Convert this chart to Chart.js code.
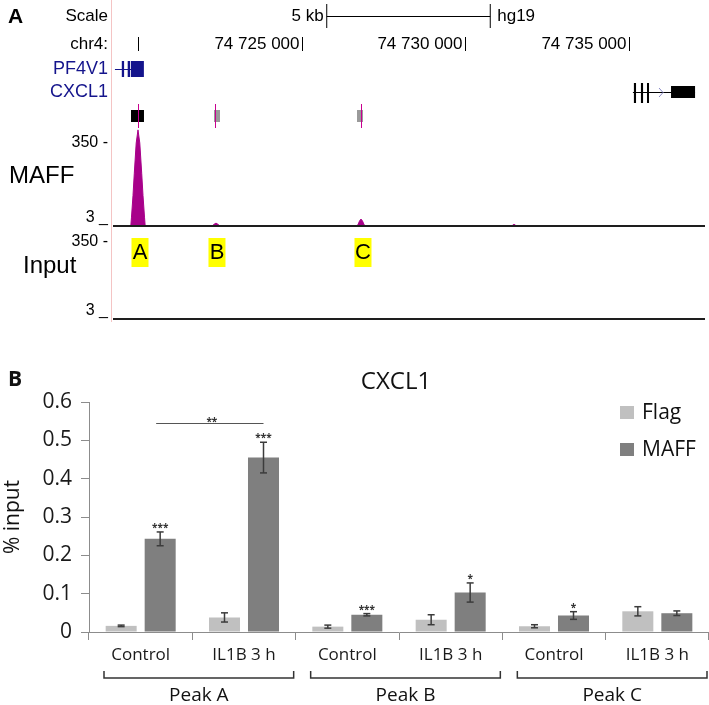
<!DOCTYPE html>
<html>
<head>
<meta charset="utf-8">
<script src="https://cdn.jsdelivr.net/npm/chart.js@4.4.0/dist/chart.umd.min.js"></script>
<style>
  html, body { margin: 0; padding: 0; background: #fff; }
  #wrap { position: relative; width: 709px; height: 705px; overflow: hidden; }
  #trackBox { position: absolute; left: 0; top: 0; width: 709px; height: 330px; }
  #barBox { position: absolute; left: 0; top: 330px; width: 709px; height: 375px; }
</style>
</head>
<body>
<div id="wrap">
  <div id="trackBox"><canvas id="tracks"></canvas></div>
  <div id="barBox"><canvas id="bars"></canvas></div>
</div>
<script>
// ---- Panel A: genome browser view (hg19, chr4) ----
const viewRange = [74719190, 74737324]
const rulerTicks = [74720000, 74725000, 74730000, 74735000]
const rulerLabels = ["", "74 725 000", "74 730 000", "74 735 000"]
const scaleBarRange = [74725757, 74730757]
const pf4v1Span = [74719280, 74719930]
const pf4v1Exons = [[74719490, 74719560], [74719670, 74719745], [74719770, 74720165]]
const cxcl1Span = [74735120, 74737020]
const cxcl1Exons = [[74735150, 74735215], [74735365, 74735430], [74735550, 74735612]]
const cxcl1Utr = [[74736285, 74737020]]
const peakCalls = [[74719771, 74720168], [74722309, 74722492], [74726682, 74726865]]
const peakSummits = [74719985, 74722339, 74726804]
const peakNames = ["A", "B", "C"]
const trackTicks = [3, 350]

const maffPos = [74719190, 74719765, 74719786, 74719832, 74719872, 74719930, 74719985, 74720040, 74720098,
  74720138, 74720184, 74720205, 74722200, 74722260, 74722320, 74722370, 74722420, 74722480, 74722540,
  74726650, 74726710, 74726760, 74726804, 74726850, 74726900, 74726960, 74730150, 74730229, 74730300,
  74731380, 74731430, 74731483, 74731540, 74731590, 74737324]
const maffSignal = [0, 3, 40, 130, 224, 350, 405, 350, 224,
  130, 40, 3, 0, 4, 11, 15, 11, 4, 0,
  0, 8, 24, 32, 24, 8, 0, 0, 6, 0,
  0, 5, 10, 5, 0, 0]
const inputPos = [74719190, 74737324]
const inputSignal = [0, 0]

// ---- Panel B: ChIP-qPCR at CXCL1 ----
const peakGroups = ["Peak A", "Peak B", "Peak C"]
const conditions = ["Control", "IL1B 3 h", "Control", "IL1B 3 h", "Control", "IL1B 3 h"]
const flagMean = [0.016, 0.038, 0.014, 0.032, 0.015, 0.054]
const flagErr = [0.002, 0.012, 0.004, 0.013, 0.004, 0.012]
const maffMean = [0.243, 0.455, 0.045, 0.103, 0.043, 0.049]
const maffErr = [0.018, 0.040, 0.003, 0.025, 0.010, 0.006]
const maffStars = ["***", "***", "***", "*", "*", ""]
const pairCompare = [0, 1]
const pairLevel = 0.546
const pairStars = "**"

const sans = "'Liberation Sans', Arial, sans-serif"
const open = "'Open Sans', sans-serif"
Chart.defaults.font.family = open

function seg(ctx, x1, y1, x2, y2) {
  ctx.beginPath(); ctx.moveTo(x1, y1); ctx.lineTo(x2, y2); ctx.stroke()
}

// annotation rows, labels and baselines around the signal tracks
const trackDecor = {
  id: "trackDecor",
  afterDraw(chart) {
    const { ctx, chartArea: area } = chart
    const { x, yMaff, yInput } = chart.scales
    const px = v => x.getPixelForValue(v)
    const right = area.left - 4
    ctx.save()

    ctx.strokeStyle = "#f4c4c4"; ctx.lineWidth = 1
    seg(ctx, area.left - 0.5, 0, area.left - 0.5, yInput.bottom + 3)

    ctx.fillStyle = "#000"
    ctx.font = "bold 21px " + sans
    ctx.textAlign = "left"; ctx.textBaseline = "middle"
    ctx.fillText("A", 8, 17)

    // scale bar
    ctx.font = "17px " + sans
    ctx.textAlign = "right"
    ctx.fillText("Scale", right, 16)
    const s0 = px(scaleBarRange[0]), s1 = px(scaleBarRange[1])
    ctx.strokeStyle = "#000"
    seg(ctx, s0, 16.5, s1, 16.5); seg(ctx, s0, 4, s0, 28); seg(ctx, s1, 4, s1, 28)
    ctx.fillText("5 kb", s0 - 3, 16)
    ctx.textAlign = "left"
    ctx.fillText("hg19", s1 + 7, 16)

    // ruler
    ctx.textAlign = "right"
    ctx.fillText("chr4:", right, 44)
    rulerTicks.forEach((t, i) => {
      const p = Math.round(px(t)) + 0.5
      seg(ctx, p, 37, p, 51)
      if (rulerLabels[i]) ctx.fillText(rulerLabels[i], p - 3, 44)
    })

    // genes
    ctx.fillStyle = "#14148c"
    ctx.font = "18px " + sans
    ctx.fillText("PF4V1", right, 69)
    ctx.fillText("CXCL1", right, 92)
    ctx.strokeStyle = "#14148c"
    seg(ctx, px(pf4v1Span[0]), 69.5, px(pf4v1Span[1]), 69.5)
    pf4v1Exons.forEach(e => ctx.fillRect(px(e[0]), 61, Math.max(2, px(e[1]) - px(e[0])), 16))

    ctx.fillStyle = "#000"; ctx.strokeStyle = "#000"
    seg(ctx, px(cxcl1Span[0]), 92.5, px(cxcl1Span[1]), 92.5)
    cxcl1Exons.forEach(e => ctx.fillRect(px(e[0]), 83, Math.max(2, px(e[1]) - px(e[0])), 20))
    cxcl1Utr.forEach(e => ctx.fillRect(px(e[0]), 86, px(e[1]) - px(e[0]), 12))
    ctx.strokeStyle = "#8a8ac8"
    const chev = px(cxcl1Exons[2][1]) + 13
    ctx.beginPath(); ctx.moveTo(chev - 3, 88); ctx.lineTo(chev + 1, 92.5); ctx.lineTo(chev - 3, 97); ctx.stroke()

    // peak calls
    peakCalls.forEach((c, i) => {
      ctx.fillStyle = i === 0 ? "#000" : "#9a9a9a"
      ctx.fillRect(px(c[0]), 110, px(c[1]) - px(c[0]), 12)
      ctx.strokeStyle = "#c8008f"
      const p = Math.round(px(peakSummits[i])) + 0.5
      seg(ctx, p, 104, p, 128)
    })

    // track labels
    ctx.fillStyle = "#000"
    ctx.font = "16px " + sans
    ctx.textAlign = "right"
    ;[[yMaff, "MAFF", 176], [yInput, "Input", 266]].forEach(([sc, name, ty]) => {
      ctx.textBaseline = "middle"
      ctx.fillText(trackTicks[1] + " -", right, sc.getPixelForValue(trackTicks[1]))
      ctx.textBaseline = "alphabetic"
      ctx.fillText(trackTicks[0] + " _", right, sc.getPixelForValue(trackTicks[0]) - 4)
      ctx.save()
      ctx.font = "24px " + sans
      ctx.textAlign = "left"; ctx.textBaseline = "middle"
      ctx.fillText(name, name === "MAFF" ? 9 : 23, ty)
      ctx.restore()
    })

    // baselines
    ctx.strokeStyle = "#1e1e1e"; ctx.lineWidth = 2
    seg(ctx, area.left + 1, yMaff.bottom, area.right, yMaff.bottom)
    seg(ctx, area.left + 1, yInput.bottom, area.right, yInput.bottom)

    // peak name tags
    ctx.font = "22px " + sans
    ctx.textAlign = "center"; ctx.textBaseline = "middle"
    peakNames.forEach((n, i) => {
      const c = px(peakSummits[i]) + 2
      ctx.fillStyle = "#ffff00"
      ctx.fillRect(c - 8.5, 238, 17, 29)
      ctx.fillStyle = "#000"
      ctx.fillText(n, c, 253)
    })
    ctx.restore()
  }
}

new Chart(document.getElementById("tracks"), {
  type: "line",
  data: {
    datasets: [
      {
        label: "MAFF", yAxisID: "yMaff",
        data: maffPos.map((p, i) => ({ x: p, y: maffSignal[i] })),
        borderColor: "#a8008a", backgroundColor: "#a8008a",
        borderWidth: 1, pointRadius: 0, fill: "origin"
      },
      {
        label: "Input", yAxisID: "yInput",
        data: inputPos.map((p, i) => ({ x: p, y: inputSignal[i] })),
        borderColor: "#a8008a", borderWidth: 1, pointRadius: 0, fill: false
      }
    ]
  },
  options: {
    responsive: true, maintainAspectRatio: false, animation: false,
    layout: { padding: { top: 100, bottom: 11, left: 0, right: 4 } },
    plugins: { legend: { display: false }, tooltip: { enabled: false } },
    scales: {
      x: { type: "linear", min: viewRange[0], max: viewRange[1], display: false },
      yInput: {
        type: "linear", position: "left", stack: "tracks", stackWeight: 93, min: 3, max: 422,
        ticks: { display: false }, grid: { display: false }, border: { display: false },
        afterFit: s => { s.width = 112 }
      },
      yMaff: {
        type: "linear", position: "left", stack: "tracks", stackWeight: 126, min: 3, max: 530,
        ticks: { display: false }, grid: { display: false }, border: { display: false },
        afterFit: s => { s.width = 112 }
      }
    }
  },
  plugins: [trackDecor]
})

// error bars, stars, brackets, legend and titles for the bar chart
const barDecor = {
  id: "barDecor",
  afterDatasetsDraw(chart) {
    const { ctx } = chart
    const { y } = chart.scales
    ctx.save()
    ctx.strokeStyle = "#3c3c3c"; ctx.lineWidth = 1.5
    chart.data.datasets.forEach((ds, di) => {
      chart.getDatasetMeta(di).data.forEach((bar, i) => {
        const top = y.getPixelForValue(ds.data[i] + ds.errors[i])
        const bot = y.getPixelForValue(ds.data[i] - ds.errors[i])
        seg(ctx, bar.x, top, bar.x, bot)
        seg(ctx, bar.x - 3.5, top, bar.x + 3.5, top)
        seg(ctx, bar.x - 3.5, bot, bar.x + 3.5, bot)
        if (ds.stars && ds.stars[i]) {
          ctx.fillStyle = "#333"
          ctx.font = "bold 10px " + open
          ctx.textAlign = "center"; ctx.textBaseline = "alphabetic"
          ctx.fillText(ds.stars[i], bar.x, top - 1)
        }
      })
    })
    // comparison line
    const maffBars = chart.getDatasetMeta(1).data
    const ly = Math.round(y.getPixelForValue(pairLevel)) + 0.5
    ctx.strokeStyle = "#555"; ctx.lineWidth = 1
    seg(ctx, maffBars[pairCompare[0]].x - 4, ly, maffBars[pairCompare[1]].x, ly)
    ctx.fillStyle = "#333"
    ctx.font = "bold 10px " + open
    ctx.textAlign = "center"
    ctx.fillText(pairStars, (maffBars[pairCompare[0]].x + maffBars[pairCompare[1]].x) / 2, ly + 1)
    ctx.restore()
  },
  afterDraw(chart) {
    const { ctx } = chart
    const { x } = chart.scales
    const catW = (x.right - x.left) / conditions.length
    ctx.save()
    // group brackets
    ctx.strokeStyle = "#333"; ctx.lineWidth = 1.5
    ctx.fillStyle = "#111"
    ctx.font = "19px " + open
    ctx.textAlign = "center"; ctx.textBaseline = "middle"
    peakGroups.forEach((g, gi) => {
      const l = x.left + gi * 2 * catW + 15
      const r = x.left + (gi + 1) * 2 * catW - 2
      ctx.beginPath()
      ctx.moveTo(l, 341); ctx.lineTo(l, 348); ctx.lineTo(r, 348); ctx.lineTo(r, 341)
      ctx.stroke()
      ctx.fillText(g, (l + r) / 2, 366)
    })
    // legend
    ctx.textAlign = "left"
    ctx.font = "21px " + open
    chart.data.datasets.forEach((ds, i) => {
      const cy = 83 + i * 37
      ctx.fillStyle = ds.backgroundColor
      ctx.fillRect(620, cy - 7, 14, 13)
      ctx.fillStyle = "#111"
      ctx.fillText(ds.label, 642, cy)
    })
    // titles
    ctx.font = "24px " + open
    ctx.textAlign = "center"
    ctx.fillText("CXCL1", 396, 52)
    ctx.font = "bold 21px " + open
    ctx.textAlign = "left"
    ctx.fillText("B", 8, 50)
    ctx.restore()
  }
}

const axisGray = "#8c8c8c"
new Chart(document.getElementById("bars"), {
  type: "bar",
  data: {
    labels: conditions,
    datasets: [
      { label: "Flag", data: flagMean, errors: flagErr, backgroundColor: "#c0c0c0" },
      { label: "MAFF", data: maffMean, errors: maffErr, stars: maffStars, backgroundColor: "#7f7f7f" }
    ]
  },
  options: {
    responsive: true, maintainAspectRatio: false, animation: false,
    datasets: { bar: { categoryPercentage: 0.755, barPercentage: 0.795 } },
    layout: { padding: { top: 72, right: 0, left: 0, bottom: 0 } },
    plugins: { legend: { display: false }, tooltip: { enabled: false } },
    scales: {
      x: {
        grid: { display: true, drawOnChartArea: false, offset: true, tickLength: 8, color: axisGray },
        border: { color: axisGray },
        ticks: { font: { size: 17 }, color: "#1a1a1a", padding: 5, maxRotation: 0 },
        afterFit: s => { s.height = 73 }
      },
      y: {
        min: 0, max: 0.6,
        grid: { display: true, drawOnChartArea: false, tickLength: 8, color: axisGray },
        border: { color: axisGray },
        ticks: { stepSize: 0.1, font: { size: 21 }, color: "#1a1a1a", padding: 9 },
        title: { display: true, text: "% input", font: { size: 21 }, color: "#111", padding: 0 },
        afterFit: s => { s.width = 89 }
      }
    }
  },
  plugins: [barDecor]
})
</script>
</body>
</html>
